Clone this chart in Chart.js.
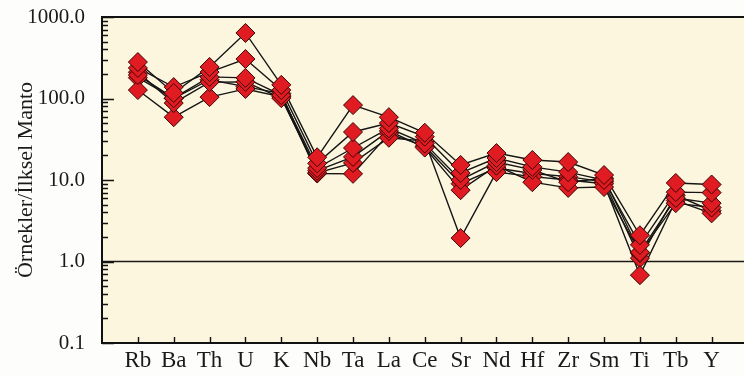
<!DOCTYPE html>
<html>
<head>
<meta charset="utf-8">
<script src="https://cdn.jsdelivr.net/npm/chart.js@4.4.1/dist/chart.umd.min.js"></script>
<style>
  html, body { margin: 0; padding: 0; overflow: hidden; background: #fdfdfb; }
  #wrap { width: 758px; height: 376px; }
</style>
</head>
<body>
<div id="wrap"><canvas id="c" width="758" height="376"></canvas></div>
<script>
// Primitive-mantle normalised trace elements
const elements = ['Rb','Ba','Th','U','K','Nb','Ta','La','Ce','Sr','Nd','Hf','Zr','Sm','Ti','Tb','Y'];
const yTickValues = [0.1, 1, 10, 100, 1000];

const sample1 = [280, 117, 244, 637, 147, 19.0, 83.0, 59, 38, 15.3, 21.4, 17.6, 16.6, 11.5, 2.10, 9.2, 8.8];
const sample2 = [237, 138, 211, 305, 127, 16.0, 38.8, 50, 34, 12.2, 18.6, 14.5, 12.5, 10.0, 1.60, 7.1, 7.0];
const sample3 = [194, 101, 184, 179, 110, 14.0, 24.7, 43, 28, 10.0, 16.6, 13.3,  9.4, 10.5, 1.30, 6.0, 5.2];
const sample4 = [210,  88, 159, 160, 101, 13.0, 19.2, 40, 25,  7.5, 15.0,  9.4,  8.0,  8.2, 1.27, 5.2, 4.6];
const sample5 = [127,  59, 104, 131, 105, 12.2, 16.2, 33, 30, 1.94, 12.5, 11.0, 10.0,  9.0, 0.68, 5.6, 3.9];
const sample6 = [180, 100, 170, 140, 115, 12.0, 11.9, 37, 26,  9.0, 14.0, 12.0, 11.0,  9.5, 1.10, 6.5, 4.2];

const samples = [sample1, sample2, sample3, sample4, sample5, sample6];
const toPoints = arr => arr.map((v, i) => ({ x: i, y: v }));

// connecting lines go underneath every marker
const lineSets = samples.map(s => ({
  data: toPoints(s),
  borderColor: '#151515',
  borderWidth: 1.4,
  pointRadius: 0,
  fill: false,
  tension: 0,
  order: 2
}));
const markerSets = samples.map(s => ({
  data: toPoints(s),
  showLine: false,
  pointStyle: 'rectRot',
  pointRadius: 9.5,
  pointBackgroundColor: '#e11b22',
  pointBorderColor: '#3c0505',
  pointBorderWidth: 1,
  order: 1
}));

const FONT = '"Liberation Serif", "Times New Roman", serif';

const framePlugin = {
  id: 'frame',
  beforeDraw(chart) {
    const { ctx, chartArea: a } = chart;
    ctx.save();
    ctx.fillStyle = '#fcf6de';
    ctx.fillRect(a.left, a.top, a.right - a.left, a.bottom - a.top);
    ctx.restore();
  },
  beforeDatasetsDraw(chart) {
    const { ctx, chartArea: a, scales } = chart;
    const y1 = scales.y.getPixelForValue(1);
    ctx.save();
    ctx.strokeStyle = '#1a1a1a';
    ctx.lineWidth = 1.6;
    ctx.beginPath();
    ctx.moveTo(a.left, y1);
    ctx.lineTo(a.right, y1);
    ctx.stroke();
    ctx.restore();
  },
  afterDatasetsDraw(chart) {
    const { ctx, chartArea: a, scales } = chart;
    ctx.save();
    ctx.strokeStyle = '#111';
    ctx.lineWidth = 1.4;
    // inward ticks on the log axis
    ctx.beginPath();
    for (let e = -1; e <= 3; e++) {
      const base = Math.pow(10, e);
      for (let m = 1; m <= 9; m++) {
        const v = base * m;
        if (v > 1000.0001) break;
        const py = Math.round(scales.y.getPixelForValue(v)) + 0.5;
        const len = m === 1 ? 12 : 6;
        ctx.moveTo(a.left, py);
        ctx.lineTo(a.left + len, py);
      }
    }
    // inward ticks on the element axis
    elements.forEach((_, i) => {
      const px = Math.round(scales.x.getPixelForValue(i)) + 0.5;
      ctx.moveTo(px, a.bottom);
      ctx.lineTo(px, a.bottom - 6);
    });
    ctx.stroke();
    // plot frame
    ctx.lineWidth = 2;
    ctx.strokeStyle = '#111';
    ctx.strokeRect(a.left, a.top, a.right - a.left, a.bottom - a.top);
    ctx.restore();
  }
};

new Chart(document.getElementById('c'), {
  type: 'line',
  data: { datasets: [...lineSets, ...markerSets] },
  options: {
    responsive: false,
    animation: false,
    layout: { padding: { top: 17, right: 4, left: 0, bottom: 0 } },
    plugins: { legend: { display: false }, tooltip: { enabled: false } },
    scales: {
      x: {
        type: 'linear',
        min: -1,
        max: elements.length,
        grid: { display: false, drawTicks: false },
        border: { display: false },
        afterFit: s => { s.height = 33; s.paddingLeft = 0; s.paddingRight = 0; },
        afterBuildTicks: s => { s.ticks = elements.map((_, i) => ({ value: i })); },
        ticks: {
          autoSkip: false,
          maxRotation: 0,
          padding: 4,
          color: '#1a1a1a',
          font: { family: FONT, size: 23 },
          callback: v => elements[v] ?? ''
        }
      },
      y: {
        type: 'logarithmic',
        min: 0.1,
        max: 1000,
        grid: { display: false, drawTicks: false },
        border: { display: false },
        afterFit: s => { s.width = 102; s.paddingTop = 0; s.paddingBottom = 0; },
        afterBuildTicks: s => { s.ticks = yTickValues.map(v => ({ value: v })); },
        ticks: {
          padding: 17,
          color: '#1a1a1a',
          font: { family: FONT, size: 21 },
          callback: v => Number(v).toFixed(1)
        },
        title: {
          display: true,
          text: 'Örnekler/İlksel Manto',
          color: '#1a1a1a',
          font: { family: FONT, size: 22 },
          padding: { top: 13, bottom: 0 }
        }
      }
    }
  },
  plugins: [framePlugin]
});
</script>
</body>
</html>
